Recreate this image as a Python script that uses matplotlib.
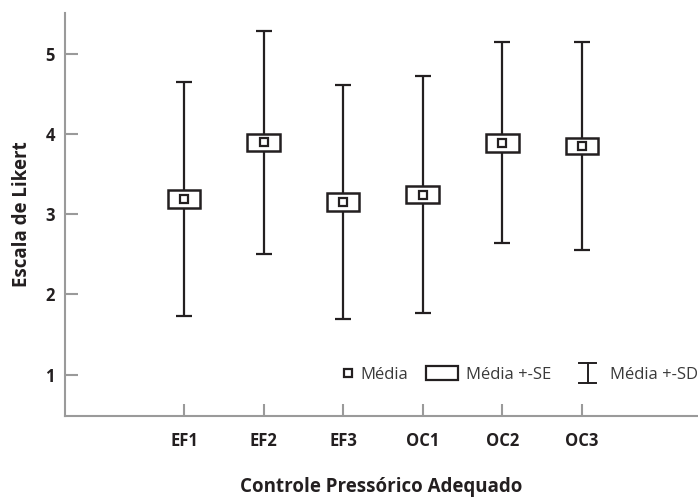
import numpy as np
import matplotlib
matplotlib.use("Agg")
from matplotlib import pyplot as plt
from matplotlib.lines import Line2D
from matplotlib.patches import Patch, Rectangle
from matplotlib.legend_handler import HandlerBase

groups = ["EF1", "EF2", "EF3", "OC1", "OC2", "OC3"]
media = [3.19, 3.895, 3.155, 3.245, 3.89, 3.85]
se = [0.11, 0.105, 0.11, 0.105, 0.11, 0.105]
sd = [1.46, 1.385, 1.455, 1.47, 1.255, 1.30]
yticks = [1, 2, 3, 4, 5]

plt.rcParams['font.family'] = ['Open Sans', 'DejaVu Sans']
ink = '#231f20'
gray = '#9a9a9a'

fig = plt.figure(figsize=(6.98, 4.99), dpi=100)
ax = fig.add_axes([0.0927, 0.167, 0.9073, 0.806])

x = np.arange(1, len(groups) + 1)
media = np.array(media)
se = np.array(se)
sd = np.array(sd)

# whiskers (SD)
ax.errorbar(x, media, yerr=sd, fmt='none', ecolor=ink, elinewidth=1.6,
            capsize=6, capthick=1.6, zorder=2)
# box (SE)
ax.bar(x, 2 * se, bottom=media - se, width=0.41, color='white',
       edgecolor=ink, linewidth=1.8, zorder=3)
# mean
ax.plot(x, media, ls='none', marker='s', ms=5.5, mfc='white', mec=ink,
        mew=1.6, zorder=4)

ax.set_xlim(-0.5, 7.46)
ax.set_ylim(0.49, 5.5)
ax.set_xticks(x)
ax.set_xticklabels(groups)
ax.set_yticks(yticks)

for s in ['top', 'right']:
    ax.spines[s].set_visible(False)
for s in ['left', 'bottom']:
    ax.spines[s].set_color(gray)
    ax.spines[s].set_linewidth(1.5)

ax.tick_params(axis='both', direction='in', length=9, width=1.5, color=gray,
               labelcolor=ink, labelsize=12)
ax.tick_params(axis='x', pad=12)
ax.tick_params(axis='y', pad=7)
for lab in ax.get_xticklabels() + ax.get_yticklabels():
    lab.set_fontweight('bold')

ax.set_ylabel("Escala de Likert", fontsize=13.5, fontweight='bold', color=ink,
              labelpad=10)
ax.set_xlabel("Controle Pressórico Adequado", fontsize=13.5, fontweight='bold',
              color=ink, va='center')
ax.xaxis.set_label_coords(0.5, -0.177)


class HandlerMean(HandlerBase):
    def create_artists(self, legend, orig_handle, xdescent, ydescent,
                       width, height, fontsize, trans):
        m = Line2D([width - xdescent - 3], [height / 2 - ydescent], ls='none',
                   marker='s', ms=5.5, mfc='white', mec=ink, mew=1.6,
                   transform=trans)
        return [m]


class HandlerSE(HandlerBase):
    def create_artists(self, legend, orig_handle, xdescent, ydescent,
                       width, height, fontsize, trans):
        r = Rectangle((-xdescent, -ydescent - 1), width, height + 2,
                      fc='white', ec=ink, lw=1.6, transform=trans)
        return [r]


class HandlerSD(HandlerBase):
    def create_artists(self, legend, orig_handle, xdescent, ydescent,
                       width, height, fontsize, trans):
        cx = width - xdescent - 10
        y0 = -ydescent - 3
        y1 = height - ydescent + 3
        lines = [Line2D([cx, cx], [y0, y1], color=ink, lw=1.4, transform=trans),
                 Line2D([cx - 6, cx + 6], [y0, y0], color=ink, lw=1.4, transform=trans),
                 Line2D([cx - 6, cx + 6], [y1, y1], color=ink, lw=1.4, transform=trans)]
        return lines


h_mean = Line2D([], [])
h_se = Patch()
h_sd = Line2D([], [], color=ink)
leg = fig.legend([h_mean, h_se, h_sd], ["Média", "Média +-SE", "Média +-SD"],
                 handler_map={h_mean: HandlerMean(), h_se: HandlerSE(),
                              h_sd: HandlerSD()},
                 loc='center right', bbox_to_anchor=(1.0, 1 - 375 / 499),
                 ncol=3, frameon=False, fontsize=12, handlelength=1.9,
                 handletextpad=0.5, columnspacing=1.1, borderaxespad=0,
                 borderpad=0)
for t in leg.get_texts():
    t.set_color('#3a3a3a')

fig.savefig("out.png", dpi=100)
